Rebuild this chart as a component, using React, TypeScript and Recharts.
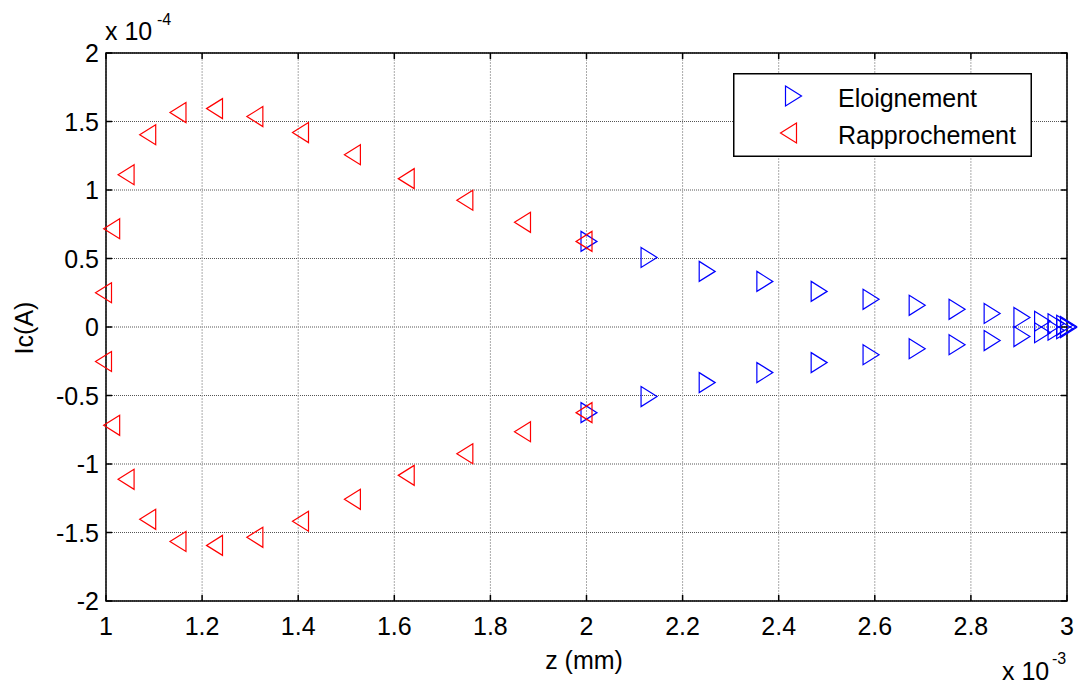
import { ScatterChart, Scatter, XAxis, YAxis, CartesianGrid, ReferenceArea, Legend } from 'recharts';

// z en unités de 1e-3 (axe "x 10^-3"), Ic en unités de 1e-4 A (axe "x 10^-4")
const zEloignement = [2.0, 2.125, 2.246, 2.366, 2.479, 2.587, 2.683, 2.766, 2.839, 2.901, 2.944, 2.972, 2.99, 2.998];
const icEloignementHaut = [0.625, 0.508, 0.406, 0.333, 0.26, 0.202, 0.158, 0.129, 0.099, 0.07, 0.042, 0.024, 0.012, 0.004];
const icEloignementBas = [-0.625, -0.508, -0.406, -0.333, -0.26, -0.202, -0.158, -0.129, -0.099, -0.07, -0.042, -0.024, -0.012, -0.004];

const zRapprochement = [1.0, 1.017, 1.047, 1.092, 1.155, 1.231, 1.315, 1.41, 1.518, 1.63, 1.752, 1.872, 2.0];
const icRapprochementHaut = [0.25, 0.718, 1.112, 1.404, 1.565, 1.594, 1.536, 1.419, 1.258, 1.083, 0.925, 0.764, 0.625];
const icRapprochementBas = [-0.252, -0.718, -1.112, -1.404, -1.565, -1.594, -1.535, -1.418, -1.258, -1.083, -0.925, -0.764, -0.625];

const xTicks = [1, 1.2, 1.4, 1.6, 1.8, 2, 2.2, 2.4, 2.6, 2.8, 3];
const yTicks = [-2, -1.5, -1, -0.5, 0, 0.5, 1, 1.5, 2];

const eloignement = [
  ...zEloignement.map((z, i) => ({ z, ic: icEloignementHaut[i] })),
  ...zEloignement.map((z, i) => ({ z, ic: icEloignementBas[i] })),
];
const rapprochement = [
  ...zRapprochement.map((z, i) => ({ z, ic: icRapprochementHaut[i] })),
  ...zRapprochement.map((z, i) => ({ z, ic: icRapprochementBas[i] })),
];

const W = 1080;
const H = 688;
const PLOT_LEFT = 106;
const PLOT_TOP = 53;
const PLOT_RIGHT = 1067;
const PLOT_BOTTOM = 601;
const FONT = '"Liberation Sans", Arial, sans-serif';
const BLUE = '#0000ff';
const RED = '#ff0000';

// triangles MATLAB '>' et '<', centrés sur le centre de gravité
const triRight = (cx: number, cy: number) =>
  `M${cx - 5.5},${cy - 10} L${cx + 10.5},${cy} L${cx - 5.5},${cy + 10} Z`;
const triLeft = (cx: number, cy: number) =>
  `M${cx + 5.5},${cy - 10} L${cx - 10.5},${cy} L${cx + 5.5},${cy + 10} Z`;

const RightMarker = (props: any) => (
  <path d={triRight(props.cx, props.cy)} fill="none" stroke={BLUE} strokeWidth={1.2} />
);
const LeftMarker = (props: any) => (
  <path d={triLeft(props.cx, props.cy)} fill="none" stroke={RED} strokeWidth={1.2} />
);

const XTick = ({ x, payload }: any) => (
  <g>
    <line x1={x} x2={x} y1={PLOT_BOTTOM} y2={PLOT_BOTTOM - 6} stroke="#000" strokeWidth={1.5} />
    <line x1={x} x2={x} y1={PLOT_TOP} y2={PLOT_TOP + 6} stroke="#000" strokeWidth={1.5} />
    <text x={x} y={635} textAnchor="middle" fontSize={25} fontFamily={FONT} fill="#000">
      {payload.value}
    </text>
  </g>
);

const YTick = ({ y, payload }: any) => (
  <g>
    <line x1={PLOT_LEFT} x2={PLOT_LEFT + 6} y1={y} y2={y} stroke="#000" strokeWidth={1.5} />
    <line x1={PLOT_RIGHT} x2={PLOT_RIGHT - 6} y1={y} y2={y} stroke="#000" strokeWidth={1.5} />
    <text x={99} y={y + 9} textAnchor="end" fontSize={25} fontFamily={FONT} fill="#000">
      {payload.value}
    </text>
  </g>
);

const XLabel = () => (
  <g fontFamily={FONT} fill="#000">
    <text x={584} y={669} textAnchor="middle" fontSize={25}>z (mm)</text>
    <text x={1002} y={680} fontSize={25}>x 10</text>
    <text x={1052} y={664} fontSize={16}>-3</text>
  </g>
);

const YLabel = () => (
  <g fontFamily={FONT} fill="#000">
    <text x={33} y={328} textAnchor="middle" fontSize={25} transform="rotate(-90 33 328)">Ic(A)</text>
    <text x={105} y={40} fontSize={25}>x 10</text>
    <text x={157} y={25} fontSize={16}>-4</text>
  </g>
);

const LegendBox = (props: any) => {
  const items = props.payload && props.payload.length ? props.payload : [{ value: 'Eloignement' }, { value: 'Rapprochement' }];
  return (
    <svg width={299} height={84} style={{ display: 'block' }}>
      <rect x={0.75} y={0.75} width={297.5} height={82.5} fill="#fff" stroke="#000" strokeWidth={1.5} />
      {items.map((it: any, i: number) => {
        const cy = 23 + i * 37;
        const isEloign = it.value === 'Eloignement';
        return (
          <g key={it.value}>
            <path
              d={isEloign ? triRight(58, cy) : triLeft(58, cy)}
              fill="none"
              stroke={isEloign ? BLUE : RED}
              strokeWidth={1.2}
            />
            <text x={105} y={cy + 11} fontSize={25} fontFamily={FONT} fill="#000">
              {it.value}
            </text>
          </g>
        );
      })}
    </svg>
  );
};

export default function App() {
  return (
    <div style={{ position: 'absolute', left: 0, top: 0, width: W, height: H, background: '#fff' }}>
      <ScatterChart
        width={W}
        height={H}
        margin={{ top: PLOT_TOP, right: W - PLOT_RIGHT, bottom: 0, left: 0 }}
      >
        <CartesianGrid vertical={false} stroke="#555" strokeDasharray="1 1" />
        <CartesianGrid horizontal={false} stroke="#aaa" strokeDasharray="2 1" />
        <XAxis
          type="number"
          dataKey="z"
          domain={[1, 3]}
          ticks={xTicks}
          interval={0}
          height={H - PLOT_BOTTOM}
          axisLine={false}
          tickLine={false}
          tick={<XTick />}
          label={{ content: () => <XLabel /> }}
        />
        <YAxis
          type="number"
          dataKey="ic"
          domain={[-2, 2]}
          ticks={yTicks}
          interval={0}
          width={PLOT_LEFT}
          axisLine={false}
          tickLine={false}
          tick={<YTick />}
          label={{ content: () => <YLabel /> }}
        />
        <ReferenceArea
          x1={1}
          x2={3}
          y1={-2}
          y2={2}
          fill="none"
          fillOpacity={0}
          stroke="#000"
          strokeWidth={1.5}
          ifOverflow="visible"
        />
        <Scatter name="Eloignement" data={eloignement} shape={<RightMarker />} fill={BLUE} isAnimationActive={false} />
        <Scatter name="Rapprochement" data={rapprochement} shape={<LeftMarker />} fill={RED} isAnimationActive={false} />
        <Legend
          layout="horizontal"
          verticalAlign="middle"
          align="center"
          content={<LegendBox />}
          wrapperStyle={{ position: 'absolute', left: 733, top: 73, width: 299, height: 84 }}
        />
      </ScatterChart>
    </div>
  );
}
